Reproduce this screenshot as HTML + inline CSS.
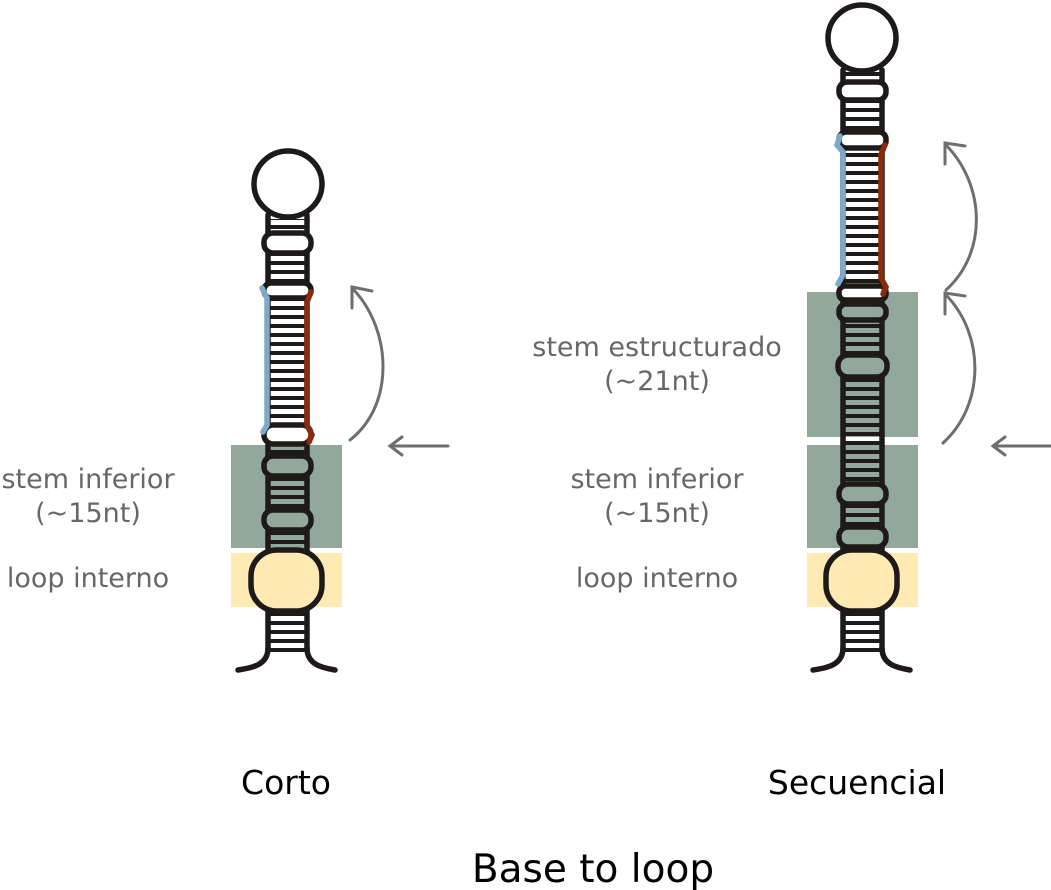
<!DOCTYPE html>
<html><head><meta charset="utf-8"><style>
html,body{margin:0;padding:0;background:#fff;}
svg{display:block;}
text{font-family:"DejaVu Sans",sans-serif;}
</style></head><body>
<svg width="1051" height="890" viewBox="0 0 1051 890" xmlns="http://www.w3.org/2000/svg">
<defs>
<pattern id="r" patternUnits="userSpaceOnUse" width="60" height="9"><rect x="0" y="0" width="60" height="4" fill="#1e1a1a"/></pattern>
</defs>
<rect x="231" y="445" width="111" height="103" fill="#91a89b"/>
<rect x="231" y="553" width="111" height="54" fill="#feeab2"/>
<rect x="807" y="292" width="111" height="145" fill="#91a89b"/>
<rect x="807" y="445" width="111" height="103" fill="#91a89b"/>
<rect x="807" y="553" width="111" height="54" fill="#feeab2"/>

<g stroke="#1e1a1a" stroke-width="5.5" fill="none" stroke-linecap="round">
<!-- LEFT -->
<rect x="268" y="219" width="39" height="330" fill="url(#r)" stroke="none"/>
<rect x="268" y="612" width="39" height="40" fill="url(#r)" stroke="none"/>
<line x1="268" y1="215" x2="268" y2="650"/>
<line x1="307" y1="215" x2="307" y2="650"/>
<rect x="264" y="233" width="47" height="20" rx="9" fill="#fff"/>
<rect x="264" y="283" width="47" height="15" rx="7" fill="#fff"/>
<rect x="264" y="425" width="47" height="19" rx="9" fill="#fff"/>
<rect x="264" y="456" width="47" height="20" rx="9" fill="#91a89b"/>
<rect x="264" y="510" width="47" height="20" rx="9" fill="#91a89b"/>
<rect x="251" y="550" width="71" height="61" rx="26" fill="#feeab2"/>
<path d="M268,648 C268,665 252,668 238,670"/>
<path d="M307,648 C307,665 323,668 335,670"/>
<ellipse cx="288" cy="184" rx="34" ry="33" fill="#fff"/>
<path d="M262,288 L267,298 L267,425 L263,432" stroke="#7fa9c8"/>
<path d="M311,292 L307,302 L307,425 L312,435 L309,442" stroke="#8b2a0c"/>

<!-- RIGHT -->
<rect x="843" y="72" width="39" height="478" fill="url(#r)" stroke="none"/>
<rect x="843" y="612" width="39" height="40" fill="url(#r)" stroke="none"/>
<line x1="843" y1="70" x2="843" y2="650"/>
<line x1="882" y1="70" x2="882" y2="650"/>
<rect x="839" y="82" width="47" height="18" rx="8" fill="#fff"/>
<rect x="839" y="132" width="47" height="16" rx="7" fill="#fff"/>
<rect x="839" y="286" width="47" height="14" rx="6" fill="#fff"/>
<rect x="839" y="304" width="47" height="16" rx="7" fill="#91a89b"/>
<rect x="838" y="355" width="49" height="22" rx="10" fill="#91a89b"/>
<rect x="839" y="484" width="47" height="20" rx="9" fill="#91a89b"/>
<rect x="839" y="527" width="47" height="20" rx="9" fill="#91a89b"/>
<rect x="826" y="550" width="71" height="61" rx="26" fill="#feeab2"/>
<path d="M843,648 C843,665 827,668 813,670"/>
<path d="M882,648 C882,665 898,668 910,670"/>
<ellipse cx="862" cy="38" rx="34" ry="33" fill="#fff"/>
<path d="M840,136 L837,145 L843,152 L843,275 L838,284" stroke="#7fa9c8"/>
<path d="M885,145 L881,155 L881,278 L886,287 L883,294" stroke="#8b2a0c"/>
</g>

<g stroke="#6e6e6e" stroke-width="3" fill="none" stroke-linecap="round">
<path d="M350,440 C395,405 392,330 353,289"/>
<path d="M352,308 L352,287 L372,291"/>
<path d="M448,446 L390,446 M402,437 L390,446 L402,455"/>
<path d="M943,443 C985,405 985,335 946,295"/>
<path d="M945,314 L945,293 L965,296"/>
<path d="M946,290 C988,252 985,185 946,145"/>
<path d="M945,164 L945,143 L965,146"/>
<path d="M1051,446 L993,446 M1005,437 L993,446 L1005,455"/>
</g>

<g fill="#676767" font-size="27" text-anchor="middle">
<text x="88" y="488">stem inferior</text>
<text x="88" y="522">(~15nt)</text>
<text x="88" y="587">loop interno</text>
<text x="657" y="356">stem estructurado</text>
<text x="657" y="390">(~21nt)</text>
<text x="657" y="488">stem inferior</text>
<text x="657" y="522">(~15nt)</text>
<text x="657" y="587">loop interno</text>
</g>
<g fill="#000" text-anchor="middle">
<text x="286" y="794" font-size="33">Corto</text>
<text x="857" y="794" font-size="33">Secuencial</text>
<text x="593" y="882" font-size="39">Base to loop</text>
</g>
</svg>
</body></html>
